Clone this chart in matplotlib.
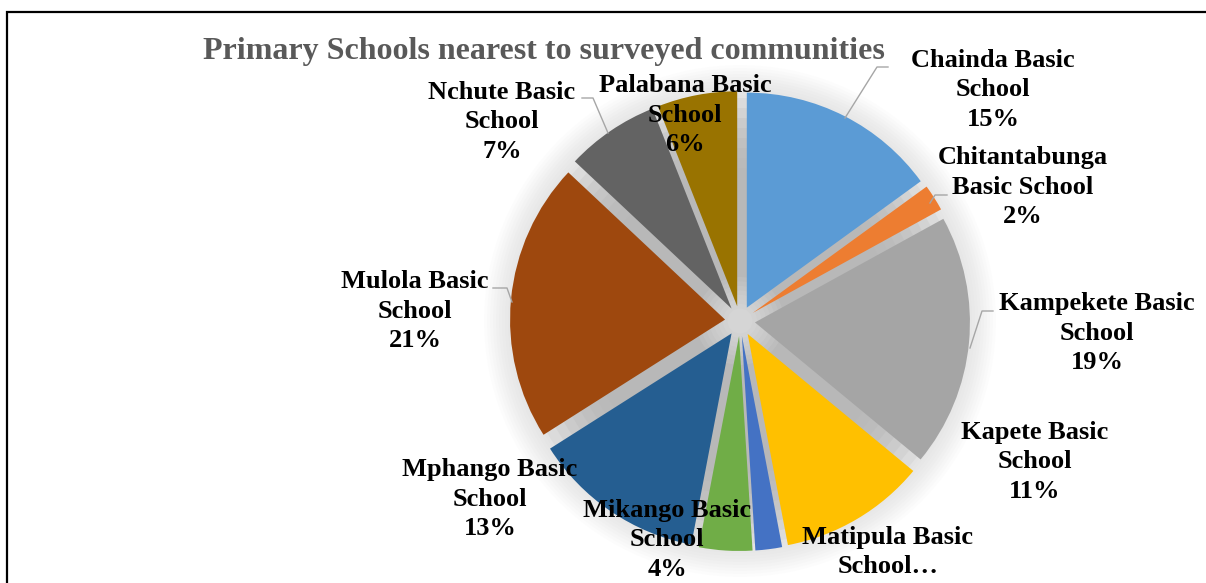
import matplotlib.pyplot as plt
import matplotlib.patches as mpatches
import matplotlib as mpl

mpl.rcParams['font.family'] = ['Liberation Serif', 'DejaVu Serif']

# share of surveyed communities by nearest primary school (%)
schools = ['Chainda Basic\nSchool', 'Chitantabunga\nBasic School', 'Kampekete Basic\nSchool',
           'Kapete Basic\nSchool', 'Matipula Basic\nSchool', 'Mikango Basic\nSchool',
           'Mphango Basic\nSchool', 'Mulola Basic\nSchool', 'Nchute Basic\nSchool',
           'Palabana Basic\nSchool']
shares = [15, 2, 19, 11, 2, 4, 13, 21, 7, 6]
colours = ['#5B9BD5', '#ED7D31', '#A5A5A5', '#FFC000', '#4472C4',
           '#70AD47', '#255E91', '#9E480E', '#636363', '#997300']
title = 'Primary Schools nearest to surveyed communities'

W, H = 1206, 583
fig = plt.figure(figsize=(W / 100, H / 100), dpi=100)
ax = fig.add_axes([0, 0, 1, 1])

cx, cy = 740, H - 321
R = 215
gap = 15

# soft drop shadow behind the exploded slices
for i in range(8):
    ax.add_patch(mpatches.Circle((cx, cy), R + 8 - i * 10, color='#c4c4c4',
                                 alpha=0.2, lw=0, zorder=1))
for i in range(11):
    ax.add_patch(mpatches.Circle((cx, cy), R + gap + 26 - i * 3, color='#888888',
                                 alpha=0.02, lw=0, zorder=1.2))
for i in range(8):
    ax.add_patch(mpatches.Circle((cx, cy), 44 - i * 4.5, color='white',
                                 alpha=0.07, lw=0, zorder=1.5))

# explode is in data units here (pixels), not a fraction of the radius
wedges, _ = ax.pie(shares, colors=colours, startangle=90, counterclock=False,
                   radius=R, center=(cx, cy), explode=[gap] * len(shares),
                   wedgeprops=dict(linewidth=0, zorder=2))

# label text: name plus rounded share, the Matipula label is cut short
labels = []
for name, s in zip(schools, shares):
    if name.startswith('Matipula'):
        labels.append('Matipula Basic\nSchool\u2026')
    else:
        labels.append(f'{name}\n{s}%')

label_xy = [(993, 90), (1023, 187), (1097, 333), (1035, 462), (888, 552),
            (667, 540), (490, 499), (415, 311), (502, 122), (685, 115)]
for txt, (x, y) in zip(labels, label_xy):
    ax.text(x, H - y, txt, ha='center', va='center', fontsize=19,
            fontweight='bold', color='black', linespacing=1.38, zorder=5)

# leader lines
leaders = [
    [(888, 67), (877, 67), (845, 118)],
    [(947, 195), (935, 195), (930, 203)],
    [(993, 311), (982, 311), (970, 348)],
    [(493, 288), (507, 288), (512, 302)],
    [(582, 98), (593, 98), (608, 133)],
]
for pts in leaders:
    ax.plot([p[0] for p in pts], [H - p[1] for p in pts], color='#A6A6A6',
            lw=1.0, zorder=4)

ax.text(544, H - 52, title, ha='center', va='center', fontsize=23,
        fontweight='bold', color='#595959', zorder=5)

# outer frame, running past the right and bottom edges
ax.add_patch(mpatches.Rectangle((7, -30), 1400, H - 12 + 30, fill=False,
                                edgecolor='black', lw=1.6, zorder=6, clip_on=False))

ax.set_xlim(0, W)
ax.set_ylim(0, H)
ax.axis('off')

fig.savefig('out.png', dpi=100)
